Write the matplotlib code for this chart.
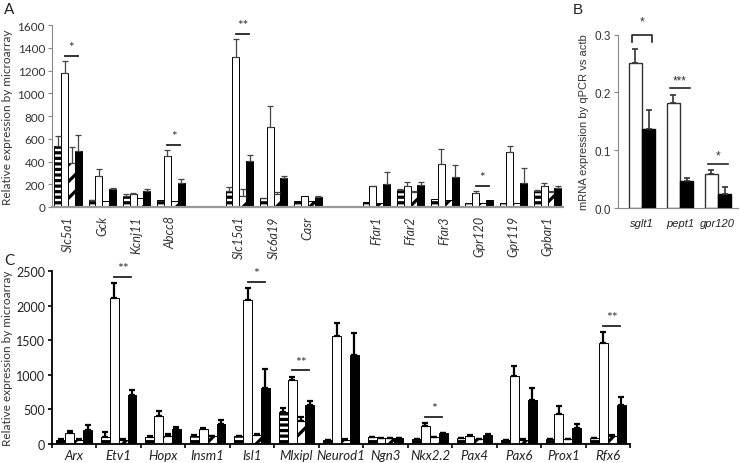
import numpy as np
import matplotlib
matplotlib.use('Agg')
import matplotlib.pyplot as plt

plt.rcParams['font.family'] = ['Lato', 'DejaVu Sans']
plt.rcParams['hatch.linewidth'] = 2.3

# ---- panel A data (microarray) ----
groups_a = [['Slc5a1', 'Gck', 'Kcnj11', 'Abcc8'],
            ['Slc15a1', 'Slc6a19', 'Casr'],
            ['Ffar1', 'Ffar2', 'Ffar3', 'Gpr120', 'Gpr119', 'Gpbar1']]
a_striped = [540, 60, 100, 60, 144, 76, 56, 41, 152, 67, 32, 38, 144]
a_striped_err = [80, 5, 15, 0, 29, 4, 0, 0, 6, 0, 0, 0, 6]
a_white = [1180, 275, 115, 445, 1315, 707, 94, 182, 182, 381, 123, 481, 182]
a_white_err = [100, 55, 5, 55, 165, 179, 0, 6, 38, 129, 21, 53, 29]
a_hatched = [390, 50, 75, 55, 100, 115, 50, 35, 135, 59, 38, 38, 135]
a_hatched_err = [140, 0, 0, 0, 55, 15, 0, 0, 5, 0, 0, 0, 5]
a_black = [495, 155, 140, 215, 408, 255, 88, 199, 196, 261, 62, 208, 164]
a_black_err = [140, 10, 20, 35, 47, 21, 12, 106, 27, 109, 0, 132, 18]
sig_a = {'Slc5a1': '*', 'Abcc8': '*', 'Slc15a1': '**', 'Gpr120': '*'}

# ---- panel B data (qPCR) ----
genes_b = ['sglt1', 'pept1', 'gpr120']
b_white = [0.251, 0.182, 0.058]
b_white_err = [0.024, 0.014, 0.007]
b_black = [0.137, 0.047, 0.025]
b_black_err = [0.033, 0.005, 0.011]
sig_b = ['*', '***', '*']

# ---- panel C data (microarray, transcription factors) ----
genes_c = ['Arx', 'Etv1', 'Hopx', 'Insm1', 'Isl1', 'Mlxipl', 'Neurod1',
           'Ngn3', 'Nkx2.2', 'Pax4', 'Pax6', 'Prox1', 'Rfx6']
c_striped = [63, 96, 101, 120, 111, 458, 58, 96, 72, 87, 53, 72, 87]
c_striped_err = [10, 73, 10, 10, 10, 58, 5, 5, 5, 5, 5, 5, 5]
c_white = [164, 2118, 410, 217, 2084, 926, 1558, 87, 265, 120, 989, 429, 1462]
c_white_err = [29, 212, 72, 10, 169, 48, 188, 5, 39, 5, 145, 116, 154]
c_hatched = [63, 63, 120, 111, 130, 328, 63, 82, 96, 72, 63, 72, 120]
c_hatched_err = [5, 5, 20, 5, 10, 58, 5, 5, 5, 5, 5, 5, 10]
c_black = [203, 709, 217, 289, 810, 569, 1293, 82, 154, 135, 637, 227, 569]
c_black_err = [72, 77, 34, 63, 275, 58, 318, 5, 10, 10, 169, 62, 116]
sig_c = {'Etv1': '**', 'Isl1': '*', 'Mlxipl': '**', 'Nkx2.2': '*', 'Rfx6': '**'}

STYLES = [dict(facecolor='white', hatch='---'),
          dict(facecolor='white'),
          dict(facecolor='white', hatch='//'),
          dict(facecolor='black')]


def four_bars(ax, x, series, errs, w, ecolor, elw):
    for k, (vals, err) in enumerate(zip(series, errs)):
        xs = x + (k - 1.5) * w
        ax.bar(xs, vals, w, edgecolor='black', linewidth=0.7, zorder=2, **STYLES[k])
        vals = np.array(vals, float)
        err = np.array(err, float)
        m = err > 0
        ax.errorbar(xs[m], vals[m], yerr=[np.zeros(m.sum()), err[m]], fmt='none',
                    ecolor=ecolor, elinewidth=elw, capsize=2, capthick=elw, zorder=3)


def sig_line(ax, x1, x2, y, txt, dy, fs):
    ax.plot([x1, x2], [y, y], color='#222222', lw=1.3, clip_on=False)
    ax.text((x1 + x2) / 2, y + dy, txt, ha='center', va='bottom', fontsize=fs,
            color='#333333', clip_on=False)


fig = plt.figure(figsize=(7.4, 4.64), dpi=100)

# ================= panel A =================
axA = fig.add_axes([52 / 740, 1 - 208 / 464, 511 / 740, 182 / 464])
genes_a = []
xa = []
pos = 0
for g in groups_a:
    for name in g:
        genes_a.append(name)
        xa.append(pos)
        pos += 1
    pos += 1
xa = np.array(xa, float)
w = 0.2
four_bars(axA, xa, [a_striped, a_white, a_hatched, a_black],
          [a_striped_err, a_white_err, a_hatched_err, a_black_err], w, '#444444', 0.9)
for name, s in sig_a.items():
    i = genes_a.index(name)
    top = max(a_white[i] + a_white_err[i], a_black[i] + a_black_err[i])
    sig_line(axA, xa[i] - 0.5 * w, xa[i] + 1.4 * w, top + 45, s, 25, 9.5)
axA.set_xlim(-0.47, 14.45)
axA.set_ylim(0, 1600)
axA.set_yticks(np.arange(0, 1601, 200))
axA.set_xticks(xa)
axA.set_xticklabels(genes_a, rotation=90, style='italic', fontsize=9, color='#333333')
axA.tick_params(axis='x', length=0, pad=6)
axA.tick_params(axis='y', length=3, color='#888888', labelsize=8.5, labelcolor='#333333', pad=2)
for sp in ['top', 'right']:
    axA.spines[sp].set_visible(False)
axA.spines['left'].set_color('#888888')
axA.spines['bottom'].set_color('#999999')
axA.spines['bottom'].set_linewidth(1.6)
axA.set_ylabel('Relative expression by microarray', fontsize=8.5, color='#333333', labelpad=3)
fig.text(4 / 740, 1 - 14 / 464, 'A', fontsize=11, color='#222222')

# ================= panel B =================
axB = fig.add_axes([618 / 740, 1 - 209 / 464, 120 / 740, 173.3 / 464])
xb = np.arange(len(genes_b))
wb = 0.35
axB.bar(xb - wb / 2, b_white, wb, facecolor='white', edgecolor='#333333', linewidth=1.0)
axB.bar(xb + wb / 2, b_black, wb, facecolor='black', edgecolor='black', linewidth=1.0)
axB.errorbar(xb - wb / 2, b_white, yerr=[np.zeros(3), b_white_err], fmt='none',
             ecolor='#333333', elinewidth=1.2, capsize=2.5, capthick=1.2)
axB.errorbar(xb + wb / 2, b_black, yerr=[np.zeros(3), b_black_err], fmt='none',
             ecolor='#333333', elinewidth=1.2, capsize=2.5, capthick=1.2)
for i, s in enumerate(sig_b):
    top = b_white[i] + b_white_err[i]
    x1, x2 = xb[i] - wb * 0.75, xb[i] + wb * 0.75
    if i == 0:
        y = top + 0.025
        axB.plot([x1, x1, x2, x2], [y - 0.013, y, y, y - 0.013], color='#222222', lw=1.2,
                 clip_on=False)
        axB.text(xb[i], y + 0.012, s, ha='center', va='bottom', fontsize=8.5,
                 family='Liberation Sans', color='#333333', clip_on=False)
    else:
        y = top + 0.011
        axB.plot([x1, x2], [y, y], color='#222222', lw=1.2, clip_on=False)
        axB.text(xb[i], y + 0.004, s, ha='center', va='bottom', fontsize=8.5,
                 family='Liberation Sans', color='#333333', clip_on=False)
axB.set_xlim(-0.63, 2.53)
axB.set_ylim(0, 0.3)
axB.set_yticks([0, 0.1, 0.2, 0.3])
axB.set_yticklabels(['0.0', '0.1', '0.2', '0.3'], family='Liberation Sans')
axB.set_xticks(xb)
axB.set_xticklabels(genes_b, style='italic', fontsize=8, family='Liberation Sans',
                    color='#222222')
axB.tick_params(axis='x', length=0, pad=7)
axB.tick_params(axis='y', length=3, color='#888888', labelsize=8.5, labelcolor='#333333', pad=2)
for sp in ['top', 'right']:
    axB.spines[sp].set_visible(False)
axB.spines['left'].set_color('#888888')
axB.spines['bottom'].set_color('#888888')
axB.set_ylabel('mRNA expression by qPCR vs actb', fontsize=8, family='Liberation Sans',
               color='#333333', labelpad=4)
fig.text(573 / 740, 1 - 14 / 464, 'B', fontsize=11, family='Liberation Sans', color='#222222')

# ================= panel C =================
axC = fig.add_axes([52 / 740, 1 - 445 / 464, 578 / 740, 172.7 / 464])
xc = np.arange(len(genes_c), dtype=float)
four_bars(axC, xc, [c_striped, c_white, c_hatched, c_black],
          [c_striped_err, c_white_err, c_hatched_err, c_black_err], w, 'black', 1.6)
for name, s in sig_c.items():
    i = genes_c.index(name)
    top = max(c_white[i] + c_white_err[i], c_black[i] + c_black_err[i])
    sig_line(axC, xc[i] - 0.5 * w, xc[i] + 1.4 * w, top + 90, s, 40, 10)
axC.set_xlim(-0.5, 12.5)
axC.set_ylim(0, 2500)
axC.set_yticks(np.arange(0, 2501, 500))
axC.set_xticks(xc)
axC.set_xticks(np.arange(-0.5, 12.6, 1), minor=True)
axC.set_xticklabels(genes_c, style='italic', fontsize=9.5, color='#222222')
axC.tick_params(axis='x', which='major', length=0, pad=3.5)
axC.tick_params(axis='x', which='minor', length=3, width=1.2)
axC.tick_params(axis='y', length=3, width=1.2, labelsize=9, labelcolor='#222222', pad=2)
for sp in ['top', 'right']:
    axC.spines[sp].set_visible(False)
axC.spines['left'].set_linewidth(1.3)
axC.spines['bottom'].set_linewidth(1.3)
axC.set_ylabel('Relative expression by microarray', fontsize=8.5, color='#333333', labelpad=2)
fig.text(4 / 740, 1 - 265 / 464, 'C', fontsize=11, color='#222222')

fig.savefig('out.png', dpi=100)
